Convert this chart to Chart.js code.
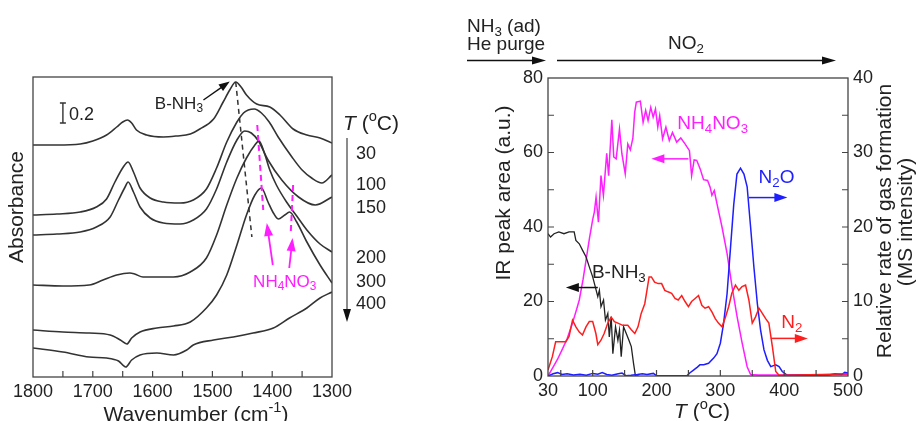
<!DOCTYPE html>
<html>
<head>
<meta charset="utf-8">
<script src="https://cdn.jsdelivr.net/npm/chart.js@4.4.0/dist/chart.umd.min.js"></script>
<style>
html, body { margin: 0; padding: 0; background: #fff; }
#wrap { position: relative; width: 917px; height: 421px; overflow: hidden; }
#irChart { position: absolute; left: 0; top: 0; }
#tpChart { position: absolute; left: 460px; top: 0; }
</style>
</head>
<body>
<div id="wrap">
  <canvas id="irChart" width="460" height="421"></canvas>
  <canvas id="tpChart" width="457" height="421"></canvas>
</div>
<script>
// ---- left panel: IR spectra (wavenumber, absorbance) ----
const irWn30 = [1800,1760,1721,1700,1677,1660,1650,1642,1635,1627,1610,1582,1560,1537,1521,1498,1482,1471,1461,1452,1443,1426,1404,1387,1365,1342,1320,1300]
const irAbs30 = [2.32,2.32,2.33,2.36,2.42,2.50,2.55,2.57,2.54,2.47,2.42,2.40,2.41,2.43,2.48,2.58,2.75,2.87,2.95,2.90,2.82,2.73,2.70,2.62,2.48,2.42,2.39,2.34]
const irWn100 = [1800,1760,1721,1694,1677,1663,1649,1641,1632,1621,1604,1582,1554,1532,1510,1493,1476,1459,1448,1440,1430,1418,1405,1390,1367,1350,1334,1317,1300]
const irAbs100 = [1.62,1.63,1.65,1.70,1.78,1.95,2.10,2.15,2.05,1.89,1.79,1.75,1.74,1.77,1.88,2.09,2.35,2.55,2.64,2.67,2.68,2.64,2.55,2.40,2.20,2.07,1.99,1.94,2.02]
const irWn150 = [1800,1760,1721,1694,1671,1657,1646,1641,1632,1621,1604,1582,1554,1532,1510,1493,1476,1459,1446,1435,1423,1407,1384,1356,1328,1300]
const irAbs150 = [1.42,1.43,1.45,1.50,1.60,1.77,1.90,1.95,1.85,1.70,1.59,1.54,1.53,1.57,1.68,1.88,2.15,2.37,2.46,2.44,2.36,2.17,1.97,1.80,1.72,1.80]
const irWn200 = [1800,1750,1706,1683,1660,1638,1630,1616,1593,1565,1537,1510,1493,1476,1459,1443,1429,1422,1412,1404,1393,1376,1359,1342,1320,1300]
const irAbs200 = [0.92,0.91,0.92,0.97,1.02,1.04,1.03,1.00,1.00,1.00,1.05,1.19,1.42,1.72,1.99,2.19,2.32,2.36,2.22,2.07,1.92,1.75,1.61,1.47,1.33,1.25]
const irWn300 = [1800,1750,1706,1671,1654,1643,1635,1621,1593,1565,1537,1510,1493,1476,1459,1443,1429,1418,1407,1398,1390,1379,1371,1359,1342,1320,1300]
const irAbs300 = [0.47,0.45,0.44,0.42,0.37,0.33,0.39,0.45,0.49,0.51,0.55,0.69,0.82,1.02,1.32,1.62,1.82,1.89,1.75,1.64,1.58,1.62,1.65,1.55,1.35,1.12,0.94]
const irWn400 = [1800,1750,1706,1677,1657,1645,1635,1621,1593,1565,1543,1532,1498,1465,1432,1398,1371,1342,1320,1300]
const irAbs400 = [0.29,0.25,0.20,0.19,0.16,0.10,0.17,0.22,0.24,0.22,0.27,0.32,0.37,0.40,0.44,0.49,0.59,0.69,0.79,0.85]
const tempLabels = ['30','100','150','200','300','400']

// ---- right panel: T-programmed data ----
const nh4T = [30,40,45,52,60,68,75,79,85,89.5,95,100,102.6,105.3,109,113,116.8,122,125,130,133,136.8,142,145.8,151,155,159,163,165.8,168.4,174.7,179,183,186.8,191,194.7,198.4,202,205,209.5,214.7,220,225,231.6,238,244.7,251.6,255,259,263,268.4,273.7,280,284,286.8,290.5,294.7,302.6,310.5,318.4,326.3,334.2,342,347.4,360,400,450,500]
const nh4Area = [0,3,4.5,7,10,14,18,20.4,26,31,37,42,44,48,41.3,53.8,48.5,59.8,53.8,68.8,58.8,58.3,66.3,59.6,54.3,62.3,60.7,63.9,70.8,73.5,73.8,68.1,71.3,68.6,72.1,69.5,71.7,66.8,69.9,63.7,66.8,63.2,65.4,62.8,63.9,62.3,60.5,53.8,58,57.9,55.6,52.7,52.5,50.7,48.5,49.8,46.3,40,32.9,23.9,15.9,8.8,2.5,0.4,0.3,0.3,0.3,0.4]
const bnh3T = [30,34,39.5,47,55,63,71,73.7,79,84,89.5,94.7,100,104,108,110.5,113,117,120,123.7,126,129,131.6,135.8,139.5,142,144.7,148.4,152.6,156.8,160.5,164,167,172]
const bnh3Area = [38.2,37.3,38.2,38.7,38.2,38.7,38.7,36.4,35.5,33.8,32,29.3,26.6,24,21.3,23,18.6,20.4,15,16.8,10.5,15.9,6,13.2,9.6,12.3,5.2,13.2,11.4,9.6,7.9,3.4,0,0]
const n2oT = [30,38,45,52,60,70,80,90,100,108,115,122,130,140,146,152,160,170,178,185,195,200,248,252,258,264,268,274,281.6,289.5,294.7,300,305,310.5,316,321,326,331.6,337,342,347.4,352.6,358,363,368.4,373.7,379,386.8,392,397,405,430,450,470,480,490,495,500]
const n2oRate = [0,0.3,0.45,0.2,0.3,0.15,0.25,0.1,0.35,0.25,0.45,0.2,0.1,0.3,0.4,0.05,0.1,0.2,0.3,0.2,0.35,0.05,0.05,0.4,0.8,1.2,1.5,1.5,1.7,2.4,3.0,4.4,7,11,17.3,23,27.1,27.9,27.1,25.4,20,14.6,9.7,6.2,3.5,2.1,1.25,1.5,1.25,0.6,0.1,0.15,0.1,0.15,0.3,0.2,0.5,0.4]
const n2T = [30,36.8,42,50,57.9,63,68.4,73.7,79,84,89.5,94.7,100,105,108,113,118,123.7,129,134,139.5,147,155,160.5,166,171,176,181.6,185,188.4,192,197,202.6,208,213,218,223.7,229,234,239.5,244.7,250,255,260.5,265.8,271,276,281.6,286.8,292,297,302.6,308,313,318,323.7,329,334,339.5,344.7,350,355,360.5,365.8,371,376,381.6,386.8,392,420,460,500]
const n2Rate = [0.8,2.6,4.6,4.6,4.6,5.3,7.5,6.6,5.9,5.5,6.6,7.3,7.3,5.7,4.2,4.8,5.7,7.1,7.9,7.3,7.1,6.8,6.8,6.2,5.7,6.6,8.4,9.7,11.5,13.3,13.3,12.6,12.4,12.4,11.5,11.3,11.1,10.4,10.2,10.8,10,9.3,10,10.4,10.8,9.5,9.1,9.3,8.6,7.7,7.1,6.6,7.9,9.3,11.1,12.2,11.5,12,12.2,10.2,7.1,7.9,9.1,8.4,7.7,7.1,3.9,0.6,0.1,0.15,0.2,0.3]
const tpTicks = [30,100,200,300,400,500]

const FONT = '"Liberation Sans", Arial, Helvetica, sans-serif'
const INK = '#222'
const MAGENTA = '#ff1eff'
const BLUE = '#1e1eff'
const RED = '#ff1e1e'

function pts(xs, ys) {
    return xs.map((x, i) => ({ x: x, y: ys[i] }))
}

// draws text made of pieces: kind 'b' = subscript, 'p' = superscript, 'i' = italic
function richText(ctx, parts, x, y, size, color, align) {
    ctx.save()
    ctx.fillStyle = color
    ctx.textBaseline = 'alphabetic'
    ctx.textAlign = 'left'
    let pieces = parts.map(p => {
        let kind = p[1] || ''
        let fs = (kind == 'b' || kind == 'p') ? size * 0.7 : size
        let font = (kind == 'i' ? 'italic ' : '') + fs + 'px ' + FONT
        ctx.font = font
        let dy = kind == 'b' ? size * 0.22 : (kind == 'p' ? -size * 0.42 : 0)
        return { t: p[0], font: font, w: ctx.measureText(p[0]).width, dy: dy }
    })
    let total = pieces.reduce((a, p) => a + p.w, 0)
    let cx = align == 'center' ? x - total / 2 : (align == 'right' ? x - total : x)
    for (const p of pieces) {
        ctx.font = p.font
        ctx.fillText(p.t, cx, y + p.dy)
        cx += p.w
    }
    ctx.restore()
}

function vText(ctx, text, x, y, size) {
    ctx.save()
    ctx.translate(x, y)
    ctx.rotate(-Math.PI / 2)
    ctx.font = size + 'px ' + FONT
    ctx.fillStyle = INK
    ctx.textAlign = 'center'
    ctx.textBaseline = 'middle'
    ctx.fillText(text, 0, 0)
    ctx.restore()
}

function arrow(ctx, x1, y1, x2, y2, color, width, headLen, headW, shaftColor) {
    let ang = Math.atan2(y2 - y1, x2 - x1)
    let c = Math.cos(ang), s = Math.sin(ang)
    ctx.save()
    ctx.strokeStyle = shaftColor || color
    ctx.fillStyle = color
    ctx.lineWidth = width
    ctx.beginPath()
    ctx.moveTo(x1, y1)
    ctx.lineTo(x2 - c * headLen * 0.8, y2 - s * headLen * 0.8)
    ctx.stroke()
    ctx.beginPath()
    ctx.moveTo(x2, y2)
    ctx.lineTo(x2 - headLen * c + headW * s, y2 - headLen * s - headW * c)
    ctx.lineTo(x2 - headLen * c - headW * s, y2 - headLen * s + headW * c)
    ctx.closePath()
    ctx.fill()
    ctx.restore()
}

function dashed(ctx, x1, y1, x2, y2, color, width, dash) {
    ctx.save()
    ctx.strokeStyle = color
    ctx.lineWidth = width
    ctx.setLineDash(dash)
    ctx.beginPath()
    ctx.moveTo(x1, y1)
    ctx.lineTo(x2, y2)
    ctx.stroke()
    ctx.restore()
}

function frame(chart) {
    let a = chart.chartArea
    let ctx = chart.ctx
    ctx.save()
    ctx.strokeStyle = '#444'
    ctx.lineWidth = 1.3
    ctx.strokeRect(a.left, a.top, a.right - a.left, a.bottom - a.top)
    ctx.restore()
}

function innerTicks(chart, scaleId, values, side, len) {
    let sc = chart.scales[scaleId]
    let a = chart.chartArea
    let ctx = chart.ctx
    ctx.save()
    ctx.strokeStyle = '#444'
    ctx.lineWidth = 1.2
    ctx.beginPath()
    for (const v of values) {
        let p = sc.getPixelForValue(v)
        if (side == 'bottom') { ctx.moveTo(p, a.bottom); ctx.lineTo(p, a.bottom - len) }
        if (side == 'left') { ctx.moveTo(a.left, p); ctx.lineTo(a.left + len, p) }
        if (side == 'right') { ctx.moveTo(a.right, p); ctx.lineTo(a.right - len, p) }
    }
    ctx.stroke()
    ctx.restore()
}

function spectrum(wn, ab) {
    return {
        data: pts(wn, ab), borderColor: '#333', borderWidth: 1.6, pointRadius: 0,
        cubicInterpolationMode: 'monotone', fill: false
    }
}

const irDecor = {
    id: 'irDecor',
    afterDraw(chart) {
        let ctx = chart.ctx
        let a = chart.chartArea
        let px = v => chart.scales.x.getPixelForValue(v)
        let py = v => chart.scales.y.getPixelForValue(v)
        frame(chart)
        let bt = []
        for (let v = 1350; v <= 1750; v += 50) bt.push(v)
        innerTicks(chart, 'x', bt, 'bottom', 6)

        // 0.2 scale bar
        let bx = px(1750), b1 = py(2.54), b2 = py(2.74)
        ctx.save()
        ctx.strokeStyle = '#333'
        ctx.lineWidth = 1.4
        ctx.beginPath()
        ctx.moveTo(bx, b1); ctx.lineTo(bx, b2)
        ctx.moveTo(bx - 3, b1); ctx.lineTo(bx + 3, b1)
        ctx.moveTo(bx - 3, b2); ctx.lineTo(bx + 3, b2)
        ctx.stroke()
        ctx.restore()
        richText(ctx, [['0.2']], bx + 6, (b1 + b2) / 2 + 6.5, 18, INK, 'left')

        // B-NH3 peak marker
        richText(ctx, [['B-NH'], ['3', 'b']], px(1556), py(2.685), 17, INK, 'center')
        arrow(ctx, px(1515), py(2.77), px(1471), py(2.955), '#111', 1.4, 11, 4)
        dashed(ctx, px(1461), py(2.95), px(1434), py(1.40), '#333', 1.5, [5, 4])

        // NH4NO3 bands
        dashed(ctx, px(1425), py(2.52), px(1415), py(1.67), MAGENTA, 2, [6, 4])
        dashed(ctx, px(1365), py(1.92), px(1369), py(1.44), MAGENTA, 2, [6, 4])
        arrow(ctx, px(1399), py(1.12), px(1409), py(1.54), MAGENTA, 1.8, 13, 4.5)
        arrow(ctx, px(1371.5), py(1.09), px(1366), py(1.39), MAGENTA, 1.8, 13, 4.5)
        richText(ctx, [['NH'], ['4', 'b'], ['NO'], ['3', 'b']], px(1379), py(0.905), 17, MAGENTA, 'center')

        // temperature legend at the right
        let r = a.right
        richText(ctx, [['T', 'i'], [' ('], ['o', 'p'], ['C)']], r + 11, 129.5, 21, INK, 'left')
        arrow(ctx, r + 15, 138, r + 15, 322, '#111', 1.5, 13, 4, '#666')
        const ty = [152, 183, 206, 256, 280, 302]
        for (let i = 0; i < tempLabels.length; i++) {
            richText(ctx, [[tempLabels[i]]], r + 24, ty[i] + 6.5, 18, INK, 'left')
        }

        vText(ctx, 'Absorbance', 17, 207, 21)
        richText(ctx, [['Wavenumber (cm'], ['-1', 'p'], [')']], 196, 421, 21, INK, 'center')
    }
}

const tpDecor = {
    id: 'tpDecor',
    afterDraw(chart) {
        let ctx = chart.ctx
        let a = chart.chartArea
        let px = v => chart.scales.x.getPixelForValue(v)
        let py = v => chart.scales.y.getPixelForValue(v)
        frame(chart)
        let bt = []
        for (let v = 50; v <= 450; v += 50) bt.push(v)
        innerTicks(chart, 'x', bt, 'bottom', 6)
        innerTicks(chart, 'y', [10, 20, 30, 40, 50, 60, 70], 'left', 6)
        innerTicks(chart, 'y2', [5, 10, 15, 20, 25, 30, 35], 'right', 6)

        // stage labels above the plot
        let l = a.left
        richText(ctx, [['NH'], ['3', 'b'], [' (ad)']], l - 81, 32, 19, INK, 'left')
        richText(ctx, [['He purge']], l - 81, 50, 19, INK, 'left')
        richText(ctx, [['NO'], ['2', 'b']], l + 138, 49, 19, INK, 'center')
        arrow(ctx, l - 81, 60.5, l - 2, 60.5, '#111', 1.3, 14, 4)
        arrow(ctx, l + 9, 60.5, l + 288, 60.5, '#111', 1.3, 14, 4)

        // series labels with axis arrows
        richText(ctx, [['NH'], ['4', 'b'], ['NO'], ['3', 'b']], px(288), py(66.4), 19, MAGENTA, 'center')
        arrow(ctx, px(250), py(58.3), px(192), py(58.3), MAGENTA, 1.5, 13, 4.5)
        richText(ctx, [['N'], ['2', 'b'], ['O']], px(388), py(51.8), 19, BLUE, 'center')
        arrow(ctx, px(344.7), py(47.9), px(405), py(47.9), BLUE, 1.5, 13, 4.5)
        richText(ctx, [['B-NH'], ['3', 'b']], px(141), py(26.3), 19, INK, 'center')
        arrow(ctx, px(108), py(23.75), px(58), py(23.75), '#111', 1.5, 13, 4.5)
        richText(ctx, [['N'], ['2', 'b']], px(412), py(12.9), 19, RED, 'center')
        arrow(ctx, px(379), py(10.1), px(437), py(10.1), RED, 1.5, 13, 4.5)

        vText(ctx, 'IR peak area (a.u.)', 44.5, 193, 21)
        vText(ctx, 'Relative rate of gas formation', 425, 221, 21)
        vText(ctx, '(MS intensity)', 446, 222, 21)
        richText(ctx, [['T', 'i'], [' ('], ['o', 'p'], ['C)']], (a.left + a.right) / 2 + 4, 418, 21, INK, 'center')
    }
}

const tickFont = { size: 18, family: FONT }
const plainTick = v => String(v)

new Chart(document.getElementById('irChart'), {
    type: 'line',
    data: {
        datasets: [
            spectrum(irWn30, irAbs30), spectrum(irWn100, irAbs100), spectrum(irWn150, irAbs150),
            spectrum(irWn200, irAbs200), spectrum(irWn300, irAbs300), spectrum(irWn400, irAbs400)
        ]
    },
    options: {
        responsive: false,
        animation: false,
        devicePixelRatio: 1,
        layout: { padding: { left: 0, right: 128, top: 77, bottom: 0 } },
        plugins: { legend: { display: false }, tooltip: { enabled: false } },
        scales: {
            x: {
                type: 'linear', min: 1300, max: 1800, reverse: true,
                grid: { display: false, drawTicks: false }, border: { display: false },
                ticks: { stepSize: 100, padding: 4, color: INK, font: tickFont, maxRotation: 0, callback: plainTick },
                afterFit: s => { s.height = 44 }
            },
            y: {
                min: 0, max: 3,
                grid: { display: false, drawTicks: false }, border: { display: false },
                ticks: { display: false },
                afterFit: s => { s.width = 33 }
            }
        }
    },
    plugins: [irDecor]
})

new Chart(document.getElementById('tpChart'), {
    type: 'line',
    data: {
        datasets: [
            { data: pts(n2T, n2Rate), yAxisID: 'y2', borderColor: RED, borderWidth: 1.5, pointRadius: 0 },
            { data: pts(n2oT, n2oRate), yAxisID: 'y2', borderColor: BLUE, borderWidth: 1.5, pointRadius: 0 },
            { data: pts(bnh3T, bnh3Area), yAxisID: 'y', borderColor: '#222', borderWidth: 1.3, pointRadius: 0 },
            { data: pts(nh4T, nh4Area), yAxisID: 'y', borderColor: MAGENTA, borderWidth: 1.5, pointRadius: 0 }
        ]
    },
    options: {
        responsive: false,
        animation: false,
        devicePixelRatio: 1,
        layout: { padding: { left: 0, right: 0, top: 78, bottom: 0 } },
        plugins: { legend: { display: false }, tooltip: { enabled: false } },
        scales: {
            x: {
                type: 'linear', min: 30, max: 500,
                grid: { display: false, drawTicks: false }, border: { display: false },
                ticks: { padding: 4, color: INK, font: tickFont, maxRotation: 0, callback: plainTick },
                afterBuildTicks: s => { s.ticks = tpTicks.map(v => ({ value: v })) },
                afterFit: s => { s.height = 45 }
            },
            y: {
                position: 'left', min: 0, max: 80,
                grid: { display: false, drawTicks: false }, border: { display: false },
                ticks: { stepSize: 20, padding: 5, color: INK, font: tickFont },
                afterFit: s => { s.width = 88 }
            },
            y2: {
                position: 'right', min: 0, max: 40,
                grid: { display: false, drawTicks: false }, border: { display: false },
                ticks: { stepSize: 10, padding: 5, color: INK, font: tickFont },
                afterFit: s => { s.width = 69 }
            }
        }
    },
    plugins: [tpDecor]
})
</script>
</body>
</html>
